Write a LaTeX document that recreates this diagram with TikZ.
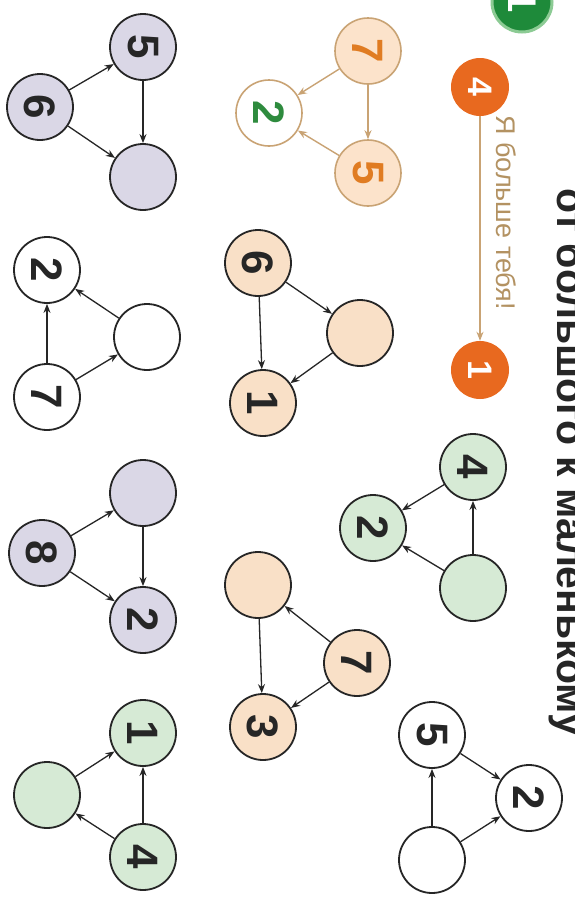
\documentclass[tikz,border=0pt]{standalone}
\usepackage{fontspec}
\setmainfont{Liberation Sans}
\usetikzlibrary{arrows.meta}
\definecolor{lav}{HTML}{DAD7E6}
\definecolor{grn}{HTML}{D6EAD5}
\definecolor{pch}{HTML}{F9E0C7}
\definecolor{expch}{HTML}{FCE3CB}
\definecolor{org}{HTML}{E8691F}
\definecolor{exorg}{HTML}{E07C22}
\definecolor{tanc}{HTML}{C9A374}
\definecolor{saytxt}{HTML}{B39262}
\definecolor{ink}{HTML}{262626}
\definecolor{dgreen}{HTML}{1E8A3A}
\definecolor{lgreen}{HTML}{8CCB94}
\definecolor{exgreen}{HTML}{2E8B3E}
\begin{document}
\begin{tikzpicture}[x=1pt,y=-1pt,
  num/.style={circle,draw=ink,line width=1.8pt,minimum size=66pt,inner sep=0pt,
    rotate=-90,text=ink,font=\fontsize{44}{44}\selectfont\bfseries},
  exnum/.style={num,draw=tanc,line width=1.6pt,fill=expch,text=exorg},
  arr/.style={-{Stealth[length=9pt,width=7pt]},draw=ink,line width=1.3pt},
  exarr/.style={-{Stealth[length=9pt,width=7pt]},draw=tanc,line width=1.4pt},
  badge/.style={circle,fill=org,minimum size=58pt,inner sep=0pt,rotate=-90,
    text=white,font=\fontsize{34}{34}\selectfont\bfseries}
]
\useasboundingbox (0,0) rectangle (574,900);
\fill[white] (0,0) rectangle (574,900);
\clip (0,0) rectangle (574,900);

% header
\node[circle,fill=dgreen,draw=lgreen,line width=3pt,minimum size=60pt,inner sep=0pt,
  rotate=-90,text=white,font=\fontsize{40}{40}\selectfont\bfseries] (task) at (522,2) {1};
\node[rotate=-90,anchor=base west,inner sep=0pt,text=ink,
  font=\fontsize{41}{41}\selectfont\bfseries] (title) at (557,188) {от большого к маленькому};

% example
\node[badge] (e4) at (480,87) {4};
\node[badge] (e1) at (480,370) {1};
\draw[exarr] (e4) -- (e1);
\node[rotate=-90,anchor=base west,inner sep=0pt,text=saytxt,
  font=\fontsize{27}{27}\selectfont] (say) at (496,115) {Я больше тебя!};

\node[exnum] (x7) at (368,51) {7};
\node[exnum,fill=white,text=exgreen] (x2) at (269,113) {2};
\node[exnum] (x5) at (368,173) {5};
\draw[exarr] (x7) -- (x2);
\draw[exarr] (x7) -- (x5);
\draw[exarr] (x5) -- (x2);

% T1 peach
\node[num,fill=pch] (a6) at (258,263) {6};
\node[num,fill=pch] (ae) at (360,333) {};
\node[num,fill=pch] (a1) at (263,403) {1};
\draw[arr] (a6) -- (ae);
\draw[arr] (a6) -- (a1);
\draw[arr] (ae) -- (a1);

% T2 green
\node[num,fill=grn] (b4) at (473,467) {4};
\node[num,fill=grn] (b2) at (373,528) {2};
\node[num,fill=grn] (be) at (473,588) {};
\draw[arr] (b4) -- (b2);
\draw[arr] (be) -- (b4);
\draw[arr] (be) -- (b2);

% T3 peach
\node[num,fill=pch] (ce) at (258,585) {};
\node[num,fill=pch] (c7) at (357,663) {7};
\node[num,fill=pch] (c3) at (263,727) {3};
\draw[arr] (c7) -- (ce);
\draw[arr] (c7) -- (c3);
\draw[arr] (ce) -- (c3);

% T4 white
\node[num,fill=white] (d5) at (432,735) {5};
\node[num,fill=white] (d2) at (529,798) {2};
\node[num,fill=white] (de) at (432,860) {};
\draw[arr] (d5) -- (d2);
\draw[arr] (de) -- (d5);
\draw[arr] (de) -- (d2);

% T5 lavender
\node[num,fill=lav] (f5) at (143,47) {5};
\node[num,fill=lav] (f6) at (40,107) {6};
\node[num,fill=lav] (fe) at (143,177) {};
\draw[arr] (f6) -- (f5);
\draw[arr] (f5) -- (fe);
\draw[arr] (f6) -- (fe);

% T6 white
\node[num,fill=white] (g2) at (47,270) {2};
\node[num,fill=white] (ge) at (147,337) {};
\node[num,fill=white] (g7) at (47,397) {7};
\draw[arr] (g7) -- (g2);
\draw[arr] (ge) -- (g2);
\draw[arr] (g7) -- (ge);

% T7 lavender
\node[num,fill=lav] (he) at (143,493) {};
\node[num,fill=lav] (h8) at (42,553) {8};
\node[num,fill=lav] (h2) at (143,620) {2};
\draw[arr] (h8) -- (he);
\draw[arr] (he) -- (h2);
\draw[arr] (h8) -- (h2);

% T8 green
\node[num,fill=grn] (k1) at (143,733) {1};
\node[num,fill=grn] (ke) at (47,795) {};
\node[num,fill=grn] (k4) at (143,857) {4};
\draw[arr] (ke) -- (k1);
\draw[arr] (k4) -- (k1);
\draw[arr] (k4) -- (ke);
\end{tikzpicture}
\end{document}
